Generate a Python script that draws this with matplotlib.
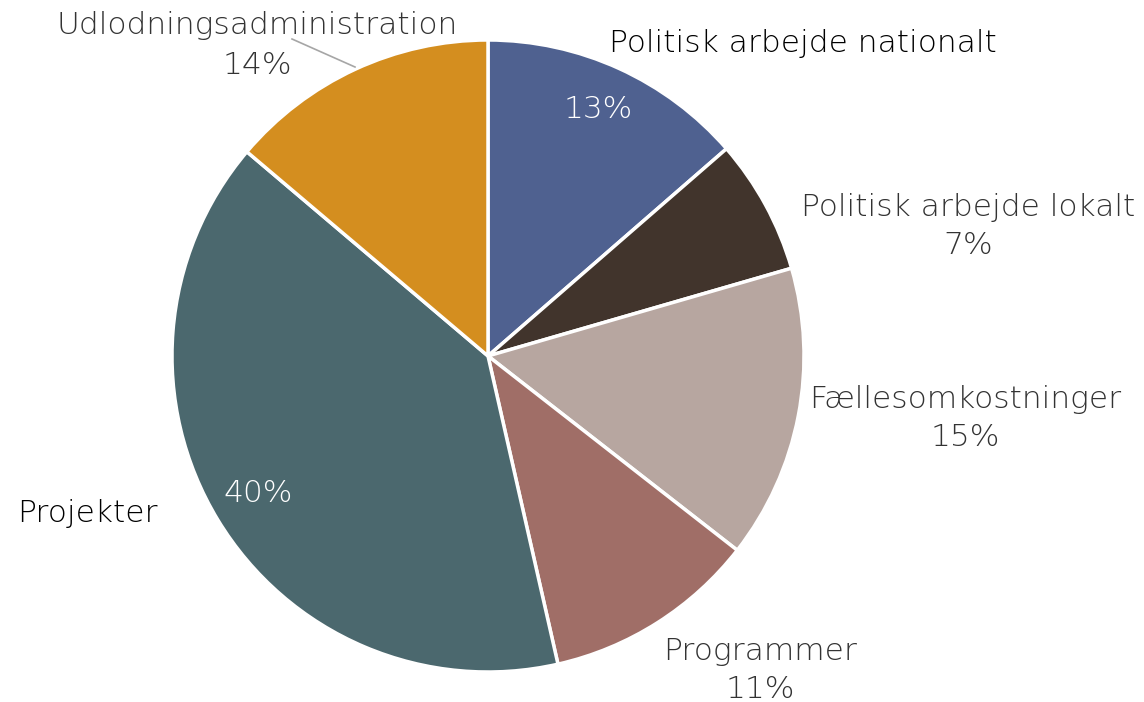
import matplotlib
matplotlib.use("Agg")
import matplotlib.pyplot as plt

categories = ["Politisk arbejde nationalt", "Politisk arbejde lokalt", "Fællesomkostninger",
              "Programmer", "Projekter", "Udlodningsadministration"]
values = [13.6, 6.9, 15.0, 10.9, 39.7, 13.8]
pct_labels = ["13%", "7%", "15%", "11%", "40%", "14%"]
colors = ["#4F6190", "#41342C", "#B7A6A0", "#A06E67", "#4B686E", "#D48E1F"]

W, H = 1144, 702
fig = plt.figure(figsize=(W / 100, H / 100), dpi=100)
ax = fig.add_axes([0, 0, 1, 1])

cx, cy, r = 488, H - 356, 316
ax.pie(values, colors=colors, startangle=90, counterclock=False, center=(cx, cy), radius=r,
       wedgeprops=dict(edgecolor="white", linewidth=2.5), frame=True)
ax.set_xlim(0, W)
ax.set_ylim(0, H)
ax.set_aspect("equal")
ax.axis("off")

font = dict(family="DejaVu Sans", fontweight=200, fontsize=22.5)
gray = "#333333"

def t(x, y, s, color, **kw):
    ax.text(x, H - y, s, ha="center", va="center", color=color, **font, **kw)

# Politisk arbejde nationalt
t(803, 43, categories[0], "black")
t(598, 110, pct_labels[0], "white")
# lokalt
t(968, 208, categories[1], gray)
t(968, 245, pct_labels[1], gray)
# Fællesomkostninger
t(965, 400, categories[2], gray)
t(965, 438, pct_labels[2], gray)
# Programmer
t(760, 651, categories[3], gray)
t(760, 689, pct_labels[3], gray)
# Projekter
t(87, 513, categories[4], "black")
t(258, 493, pct_labels[4], "white")
# Udlodningsadministration
t(257, 26, categories[5], gray)
t(257, 66, pct_labels[5], gray)
ax.plot([292, 355], [H - 39, H - 67], color="#A6A6A6", linewidth=1.2)

fig.savefig("out.png", dpi=100)
